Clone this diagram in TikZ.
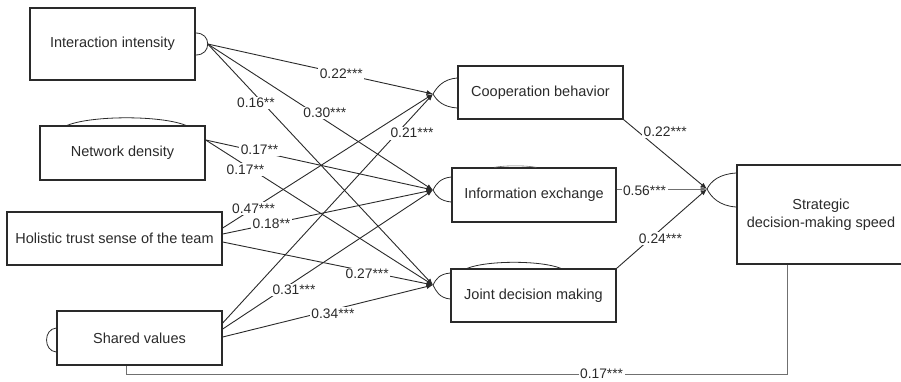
\documentclass[tikz,border=0pt]{standalone}
\usepackage{fontspec}
\setmainfont{Liberation Sans}
\usetikzlibrary{calc,arrows.meta}
\definecolor{ink}{HTML}{2A2A2A}
\definecolor{soft}{HTML}{707070}
\begin{document}
\begin{tikzpicture}[x=1pt,y=-1pt,
  construct/.style={draw=ink,line width=1.4pt,rectangle,inner sep=0pt,text=ink,
    font=\fontsize{14.5}{18}\selectfont,align=center},
  effect/.style={draw=ink,line width=0.9pt,-{Latex[length=6.5pt,width=5pt]}},
  coef/.style={fill=white,inner sep=1.5pt,text=ink,font=\fontsize{13.8}{16}\selectfont},
  curl/.style={draw=ink,line width=0.8pt},
  feedback/.style={draw=soft,line width=1pt}]
\useasboundingbox (0,0) rectangle (901,381);

% constructs
\node[construct,minimum width=165pt,minimum height=72pt] (ii) at (112.5,44) {Interaction intensity};
\node[construct,minimum width=165pt,minimum height=54pt] (nd) at (122.5,153) {Network density};
\node[construct,minimum width=215pt,minimum height=53pt] (ht) at (114.5,238.5) {Holistic trust sense of the team};
\node[construct,minimum width=165pt,minimum height=54pt] (sv) at (139.5,338) {Shared values};
\node[construct,minimum width=165pt,minimum height=53pt] (cb) at (540.5,92.5) {Cooperation behavior};
\node[construct,minimum width=164pt,minimum height=54pt] (ie) at (534,195) {Information exchange};
\node[construct,minimum width=165pt,minimum height=53pt] (jd) at (533.5,295.5) {Joint decision making};
\node[construct,minimum width=168pt,minimum height=99pt] (sd) at (821,214.5) {Strategic\\decision-making speed};

% convergence points and path ends
\coordinate (cbin) at (433,94);
\coordinate (iein) at (433,190);
\coordinate (jdin) at (433,285);
\coordinate (sdin) at (707,189);
\coordinate (iiout) at ($(ii.east)+(12,0)$);
\coordinate (ndout) at ($(nd.east)+(0,-13)$);
\coordinate (hta) at ($(ht.east)+(0,-10.5)$);
\coordinate (htb) at ($(ht.east)+(0,-4.5)$);
\coordinate (htc) at ($(ht.east)+(0,3.5)$);
\coordinate (sva) at ($(sv.east)+(0,-15)$);
\coordinate (svb) at ($(sv.east)+(0,-9)$);
\coordinate (svc) at ($(sv.east)+(0,-1)$);
\coordinate (sdbot) at ($(sd.south west)+(51,0)$);
\coordinate (svbot) at ($(sv.south west)+(70,0)$);
\coordinate (baseline) at (0,374);

% curved marks on the boxes
\draw[curl] ($(ii.east)+(0,-11)$) .. controls +(8,0) and +(0,-6) .. (iiout)
  .. controls +(0,6) and +(8,0) .. ($(ii.east)+(0,11)$);
\draw[curl] ($(nd.north west)+(28,0)$) .. controls +(25,-10) and +(-25,-10) .. ($(nd.north east)+(-20,0)$);
\draw[curl] ($(sv.west)+(0,-10)$) .. controls +(-13,1) and +(-13,-1) .. ($(sv.west)+(0,14)$);
\draw[curl] ($(cb.west)+(0,-14.5)$) .. controls +(-14,1) and +(4,-7) .. (cbin)
  .. controls +(4,7) and +(-14,-1) .. ($(cb.west)+(0,15.5)$);
\draw[curl] ($(ie.west)+(0,-18)$) .. controls +(-11,1) and +(3,-6) .. (iein)
  .. controls +(3,6) and +(-11,-1) .. ($(ie.west)+(0,7)$);
\draw[draw=soft,line width=0.6pt] ($(ie.north west)+(43,0)$) .. controls +(12,-2) and +(-12,-2) .. ($(ie.north west)+(85,0)$);
\draw[curl] ($(jd.west)+(0,-22.5)$) .. controls +(-11,1) and +(3,-6) .. (jdin)
  .. controls +(3,6) and +(-11,-1) .. ($(jd.west)+(0,3.5)$);
\draw[curl] ($(jd.north west)+(17,0)$) .. controls +(20,-8) and +(-20,-8) .. ($(jd.north east)+(-56,0)$);
\draw[curl] ($(sd.west)+(0,-41.5)$) .. controls +(-17,1) and +(4,-8) .. (sdin)
  .. controls +(4,8) and +(-17,-1) .. ($(sd.west)+(0,-7.5)$);

% paths
\foreach \a/\b in {iiout/cbin, iiout/iein, iiout/jdin, ndout/iein, ndout/jdin,
                   hta/cbin, htb/iein, htc/jdin, sva/cbin, svb/iein, svc/jdin}
  \draw[effect] (\a) -- (\b);
\draw[effect] (cb.south east) -- (sdin);
\draw[effect,draw=soft] (ie.east |- sdin) -- (sdin);
\draw[effect] (jd.north east) -- (sdin);
\draw[feedback] (sdbot) -- (sdbot |- baseline) -- (svbot |- baseline) -- (svbot);

% path coefficients
\path (iiout) -- node[coef,pos=0.593] {0.22***} (cbin);
\path (iiout) -- node[coef,pos=0.52,yshift=7pt] {0.30***} (iein);
\path (iiout) -- node[coef,pos=0.245,xshift=-7pt] {0.16**} (jdin);
\path (ndout) -- node[coef,pos=0.237,yshift=2pt] {0.17**} (iein);
\path (ndout) -- node[coef,pos=0.175,yshift=-4.5pt] {0.17**} (jdin);
\path (hta) -- node[coef,pos=0.147] {0.47***} (cbin);
\path (htb) -- node[coef,pos=0.232] {0.18**} (iein);
\path (htc) -- node[coef,pos=0.687,yshift=-2.5pt] {0.27***} (jdin);
\path (sva) -- node[coef,pos=0.829,xshift=15pt] {0.21***} (cbin);
\path (svb) -- node[coef,pos=0.339,yshift=-8pt] {0.31***} (iein);
\path (svc) -- node[coef,pos=0.524,yshift=-4pt] {0.34***} (jdin);
\path (cb.south east) -- node[coef,pos=0.22,anchor=west,yshift=3pt] {0.22***} (sdin);
\path (ie.east |- sdin) -- node[coef,pos=0.308,yshift=-2pt] {0.56***} (sdin);
\path (jd.north east) -- node[coef,pos=0.374,xshift=10pt] {0.24***} (sdin);
\path (sdbot |- baseline) -- node[coef,pos=0.281] {0.17***} (svbot |- baseline);
\end{tikzpicture}
\end{document}
